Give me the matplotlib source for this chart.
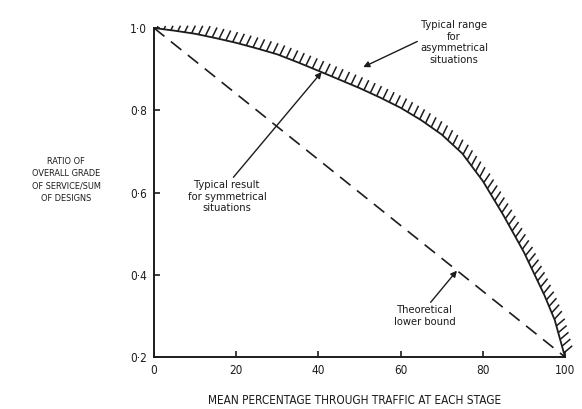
import numpy as np
import matplotlib
matplotlib.use('Agg')
import matplotlib.pyplot as plt
from matplotlib.collections import LineCollection

# curve (typical result, symmetrical situations)
traffic = [0, 5, 10, 15, 20, 25, 30, 35, 40, 45, 50, 55, 60, 65, 70, 75, 80, 85, 90, 95, 97.5, 100]
ratio = [1.0, 0.9935, 0.986, 0.9755, 0.964, 0.9505, 0.936, 0.9165, 0.896, 0.875, 0.854,
         0.831, 0.806, 0.776, 0.741, 0.695, 0.628, 0.545, 0.455, 0.35, 0.29, 0.2]

# theoretical lower bound
bound_x = [0, 100]
bound_y = [1.0, 0.2]

x_ticks = [0, 20, 40, 60, 80, 100]
y_ticks = [0.2, 0.4, 0.6, 0.8, 1.0]
y_tick_labels = ['0·2', '0·4', '0·6', '0·8', '1·0']

ink = '#1c1c1c'
plt.rcParams['font.family'] = ['DejaVu Sans']
plt.rcParams['font.stretch'] = 'condensed'

fig = plt.figure(figsize=(5.82, 4.09), dpi=100)
ax = fig.add_axes([0.2646, 0.1271, 0.7062, 0.8044])
ax.set_xlim(0, 100)
ax.set_ylim(0.2, 1.0)

for s in ['top', 'right']:
    ax.spines[s].set_visible(False)
for s in ['left', 'bottom']:
    ax.spines[s].set_linewidth(1.4)
    ax.spines[s].set_color(ink)

ax.set_xticks(x_ticks)
ax.set_yticks(y_ticks)
ax.set_yticklabels(y_tick_labels)
ax.tick_params(direction='in', length=4, width=1.2, colors=ink, labelsize=8.5, pad=5)

# the two lines
ax.plot(traffic, ratio, color=ink, lw=1.3, clip_on=False)
ax.plot(bound_x, bound_y, color=ink, lw=1.2, dashes=(8, 5), clip_on=False)

# hatch marks along the curve, done in pixel space
fig.canvas.draw()
pts = ax.transData.transform(np.column_stack([traffic, ratio]))
seg = np.diff(pts, axis=0)
seglen = np.hypot(seg[:, 0], seg[:, 1])
cum = np.concatenate([[0], np.cumsum(seglen)])
s = np.arange(3, cum[-1] - 2, 7.0)
px = np.interp(s, cum, pts[:, 0])
py = np.interp(s, cum, pts[:, 1])
idx = np.clip(np.searchsorted(cum, s, side='right') - 1, 0, len(seg) - 1)
t = seg[idx] / seglen[idx, None]
normal_ang = np.degrees(np.arctan2(t[:, 0], -t[:, 1]))
ang = np.radians(np.minimum(64, normal_ang + 25))
d = np.column_stack([np.cos(ang), np.sin(ang)])
L = np.minimum(11.0, 2.0 + s * 0.17)
start = np.column_stack([px, py])
end = start + d * L[:, None]
inv = ax.transData.inverted()
lines = [[inv.transform(p0), inv.transform(p1)] for p0, p1 in zip(start, end)]
ax.add_collection(LineCollection(lines, colors=ink, linewidths=1.1, clip_on=False))

arrow = dict(arrowstyle='-|>', color=ink, lw=1.0, mutation_scale=9, shrinkA=0, shrinkB=0)
ax.annotate('Typical range\nfor\nasymmetrical\nsituations', xy=(50.9, 0.905), xytext=(73, 0.965),
            ha='center', va='center', fontsize=8, color=ink, linespacing=1.2,
            arrowprops=dict(arrow, relpos=(0, 0.55)), annotation_clip=False)
ax.annotate('Typical result\nfor symmetrical\nsituations', xy=(40.8, 0.893), xytext=(17.8, 0.59),
            ha='center', va='center', fontsize=8, color=ink, linespacing=1.2,
            arrowprops=dict(arrow, relpos=(0.55, 1.0)))
ax.annotate('Theoretical\nlower bound', xy=(73.7, 0.41), xytext=(66, 0.30),
            ha='center', va='center', fontsize=8, color=ink, linespacing=1.2,
            arrowprops=dict(arrow, relpos=(0.55, 1.0)))

fig.text(66 / 582, 1 - 180 / 409, 'RATIO OF\nOVERALL GRADE\nOF SERVICE/SUM\nOF DESIGNS',
         ha='center', va='center', fontsize=6.6, color=ink, linespacing=1.45)
fig.text(355 / 582, 1 - 400 / 409, 'MEAN PERCENTAGE THROUGH TRAFFIC AT EACH STAGE',
         ha='center', va='center', fontsize=8.5, color=ink)

fig.savefig('out.png', dpi=100, facecolor='white')
